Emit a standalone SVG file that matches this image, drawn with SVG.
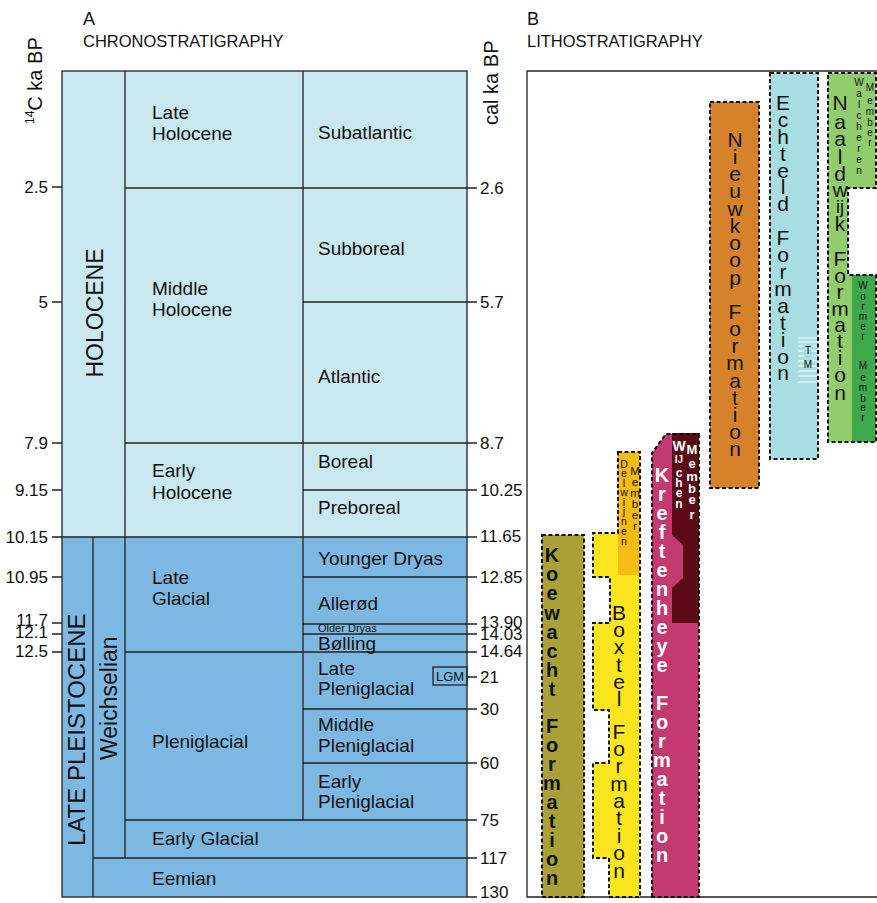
<svg xmlns="http://www.w3.org/2000/svg" width="877" height="903" viewBox="0 0 877 903">
<style>
text{font-family:"Liberation Sans",Arial,Helvetica,sans-serif;fill:#111}
.lab{font-size:19px}
.tk{font-size:17px}
.tl{font-size:17px;text-anchor:end}
.ln{stroke:#222;stroke-width:1.3;fill:none}
.fm{stroke:#111;stroke-width:2;stroke-dasharray:4 2.5}
.st{text-anchor:middle}
.big{font-size:21px}
.bw{font-size:20px;font-weight:bold}
.sm{font-size:10px}
.wh{fill:#fff;font-weight:bold}
</style>
<rect width="877" height="903" fill="#fff"/>
<g id="headers">
<text x="83" y="25" font-size="18">A</text>
<text x="83" y="47" font-size="16.5">CHRONOSTRATIGRAPHY</text>
<text x="527" y="25" font-size="18">B</text>
<text x="527" y="47" font-size="16.5">LITHOSTRATIGRAPHY</text>
<text transform="translate(42,124) rotate(-90)" font-size="20"><tspan font-size="12" dy="-8">14</tspan><tspan dy="8">C ka BP</tspan></text>
<text transform="translate(498,125) rotate(-90)" font-size="20">cal ka BP</text>
</g>
<g id="chronostratigraphy">
<rect x="62" y="71" width="405" height="466" fill="#c9e8ef"/>
<rect x="62" y="537" width="405" height="360" fill="#7db8e3"/>
<rect x="62" y="71" width="405" height="826" class="ln"/>
<path class="ln" d="M93 537V897M125 71V858M303 71V820
M125 188H477M303 302H477M125 443H477M303 490H477M52 537H477M303 577H477M303 624H477M303 634H477M125 652H477M303 709H477M303 763H477M125 820H477M93 858H477M467 897H477M467 677H477
M52 187H62M52 302H62M52 443H62M52 490H62M52 577H62M52 623H62M52 634H62M52 652H62"/>
<rect x="433" y="667" width="34" height="18" class="ln"/>
<text x="450" y="681" font-size="13" class="st">LGM</text>
</g>
<g id="period-labels">
<text transform="translate(103,313) rotate(-90)" font-size="23" class="st">HOLOCENE</text>
<text transform="translate(85,846) rotate(-90)" font-size="24">LATE PLEISTOCENE</text>
<text transform="translate(117,760) rotate(-90)" font-size="23">Weichselian</text>
<text class="lab" x="152" y="119">Late</text><text class="lab" x="152" y="140">Holocene</text>
<text class="lab" x="152" y="295">Middle</text><text class="lab" x="152" y="316">Holocene</text>
<text class="lab" x="152" y="477">Early</text><text class="lab" x="152" y="499">Holocene</text>
<text class="lab" x="152" y="584">Late</text><text class="lab" x="152" y="605">Glacial</text>
<text class="lab" x="152" y="748">Pleniglacial</text>
<text class="lab" x="152" y="845">Early Glacial</text>
<text class="lab" x="152" y="885">Eemian</text>
<text class="lab" x="318" y="139">Subatlantic</text>
<text class="lab" x="318" y="255">Subboreal</text>
<text class="lab" x="318" y="383">Atlantic</text>
<text class="lab" x="318" y="468">Boreal</text>
<text class="lab" x="318" y="514">Preboreal</text>
<text class="lab" x="318" y="565">Younger Dryas</text>
<text class="lab" x="318" y="610">Allerød</text>
<text x="318" y="632" font-size="11">Older Dryas</text>
<text class="lab" x="318" y="650">Bølling</text>
<text class="lab" x="318" y="675">Late</text><text class="lab" x="318" y="695">Pleniglacial</text>
<text class="lab" x="318" y="731">Middle</text><text class="lab" x="318" y="752">Pleniglacial</text>
<text class="lab" x="318" y="788">Early</text><text class="lab" x="318" y="808">Pleniglacial</text>
</g>
<g id="axis-14C">
<text class="tl" x="48" y="193">2.5</text>
<text class="tl" x="48" y="308">5</text>
<text class="tl" x="48" y="449">7.9</text>
<text class="tl" x="48" y="496">9.15</text>
<text class="tl" x="48" y="543">10.15</text>
<text class="tl" x="48" y="583">10.95</text>
<text class="tl" x="48" y="626" font-size="15">11.7</text>
<text class="tl" x="48" y="638" font-size="15">12.1</text>
<text class="tl" x="48" y="657" font-size="15.5">12.5</text>
</g>
<g id="axis-cal">
<text class="tk" x="480" y="194">2.6</text>
<text class="tk" x="480" y="308">5.7</text>
<text class="tk" x="480" y="449">8.7</text>
<text class="tk" x="480" y="496">10.25</text>
<text class="tk" x="480" y="542">11.65</text>
<text class="tk" x="480" y="583">12.85</text>
<text class="tk" x="480" y="628" font-size="16">13.90</text>
<text class="tk" x="480" y="640" font-size="16">14.03</text>
<text class="tk" x="480" y="657" font-size="16">14.64</text>
<text class="tk" x="480" y="683">21</text>
<text class="tk" x="480" y="715">30</text>
<text class="tk" x="480" y="769">60</text>
<text class="tk" x="480" y="826">75</text>
<text class="tk" x="480" y="864">117</text>
<text class="tk" x="480" y="898">130</text>
</g>
<g id="litho-frame">
<path class="ln" d="M877 71H527V897H877"/>
</g>
<g id="koewacht">
<rect x="542" y="535" width="42" height="362" fill="#a9a038" class="fm"/>
<text class="bw st"><tspan x="552" y="562">K</tspan><tspan x="552" y="581">o</tspan><tspan x="552" y="600">e</tspan><tspan x="552" y="620">w</tspan><tspan x="552" y="639">a</tspan><tspan x="552" y="658">c</tspan><tspan x="552" y="677">h</tspan><tspan x="552" y="696">t</tspan><tspan x="552" y="733">F</tspan><tspan x="552" y="752">o</tspan><tspan x="552" y="771">r</tspan><tspan x="552" y="790">m</tspan><tspan x="552" y="809">a</tspan><tspan x="552" y="828">t</tspan><tspan x="552" y="847">i</tspan><tspan x="552" y="866">o</tspan><tspan x="552" y="885">n</tspan></text>
</g>
<g id="boxtel">
<path d="M618 452H640V897H609V858H593V763H609V710H593V623H610V577H593V533H618Z" fill="#fae51e"/>
<rect x="618" y="452" width="22" height="123" fill="#f8bb14"/>
<path d="M618 452H640V897H609V858H593V763H609V710H593V623H610V577H593V533H618Z" fill="none" class="fm"/>
<text class="big st"><tspan x="619" y="620">B</tspan><tspan x="619" y="637">o</tspan><tspan x="619" y="654">x</tspan><tspan x="619" y="672">t</tspan><tspan x="619" y="689">e</tspan><tspan x="619" y="706">l</tspan><tspan x="619" y="739">F</tspan><tspan x="619" y="756">o</tspan><tspan x="619" y="773">r</tspan><tspan x="619" y="791">m</tspan><tspan x="619" y="808">a</tspan><tspan x="619" y="825">t</tspan><tspan x="619" y="843">i</tspan><tspan x="619" y="860">o</tspan><tspan x="619" y="878">n</tspan></text>
</g>
<g id="delwijnen-member">
<text class="st" font-size="10.5" fill="#222"><tspan x="624" y="468">D</tspan><tspan x="624" y="477">e</tspan><tspan x="624" y="487">l</tspan><tspan x="624" y="496">w</tspan><tspan x="624" y="506">i</tspan><tspan x="624" y="515">j</tspan><tspan x="624" y="525">n</tspan><tspan x="624" y="535">e</tspan><tspan x="624" y="545">n</tspan></text>
<text class="st" font-size="11.5"><tspan x="635" y="475">M</tspan><tspan x="635" y="486">e</tspan><tspan x="635" y="497">m</tspan><tspan x="635" y="508">b</tspan><tspan x="635" y="519">e</tspan><tspan x="635" y="530">r</tspan></text>
</g>
<g id="kreftenheye">
<path d="M652 897V453L666 434H699V897Z" fill="#c23a6f"/>
<path d="M672 433H699V623H672V588L683 578V545L672 535Z" fill="#5c0b16"/>
<path d="M652 897V453L666 434H699V897Z" fill="none" class="fm"/>
<text class="bw st wh"><tspan x="662" y="482">K</tspan><tspan x="662" y="501">r</tspan><tspan x="662" y="520">e</tspan><tspan x="662" y="539">f</tspan><tspan x="662" y="558">t</tspan><tspan x="662" y="577">e</tspan><tspan x="662" y="596">n</tspan><tspan x="662" y="615">h</tspan><tspan x="662" y="634">e</tspan><tspan x="662" y="653">y</tspan><tspan x="662" y="672">e</tspan><tspan x="662" y="710">F</tspan><tspan x="662" y="729">o</tspan><tspan x="662" y="748">r</tspan><tspan x="662" y="767">m</tspan><tspan x="662" y="786">a</tspan><tspan x="662" y="805">t</tspan><tspan x="662" y="824">i</tspan><tspan x="662" y="843">o</tspan><tspan x="662" y="862">n</tspan></text>
</g>
<g id="wijchen-member">
<text class="st wh" font-size="12"><tspan x="679" y="451" font-size="14">W</tspan><tspan x="679" y="463" font-size="10">IJ</tspan><tspan x="679" y="477">c</tspan><tspan x="679" y="487">h</tspan><tspan x="679" y="497">e</tspan><tspan x="679" y="508">n</tspan></text>
<text class="st wh" font-size="13"><tspan x="692" y="454">M</tspan><tspan x="692" y="468">e</tspan><tspan x="692" y="481">m</tspan><tspan x="692" y="493">b</tspan><tspan x="692" y="504">e</tspan><tspan x="692" y="519">r</tspan></text>
</g>
<g id="nieuwkoop">
<rect x="710" y="102" width="49" height="386" fill="#d5822b" class="fm"/>
<text class="big st"><tspan x="735" y="147">N</tspan><tspan x="735" y="164">i</tspan><tspan x="735" y="181">e</tspan><tspan x="735" y="198">u</tspan><tspan x="735" y="216">w</tspan><tspan x="735" y="233">k</tspan><tspan x="735" y="250">o</tspan><tspan x="735" y="267">o</tspan><tspan x="735" y="285">p</tspan><tspan x="735" y="319">F</tspan><tspan x="735" y="336">o</tspan><tspan x="735" y="353">r</tspan><tspan x="735" y="370">m</tspan><tspan x="735" y="388">a</tspan><tspan x="735" y="405">t</tspan><tspan x="735" y="422">i</tspan><tspan x="735" y="439">o</tspan><tspan x="735" y="456">n</tspan></text>
</g>
<g id="echteld">
<rect x="770" y="73" width="48" height="386" fill="#a8dde1" class="fm"/>
<text class="big st"><tspan x="783" y="110">E</tspan><tspan x="783" y="127">c</tspan><tspan x="783" y="144">h</tspan><tspan x="783" y="161">t</tspan><tspan x="783" y="178">e</tspan><tspan x="783" y="194">l</tspan><tspan x="783" y="211">d</tspan><tspan x="783" y="245">F</tspan><tspan x="783" y="262">o</tspan><tspan x="783" y="279">r</tspan><tspan x="783" y="296">m</tspan><tspan x="783" y="313">a</tspan><tspan x="783" y="330">t</tspan><tspan x="783" y="347">i</tspan><tspan x="783" y="364">o</tspan><tspan x="783" y="380">n</tspan></text>
<path stroke="#fff" stroke-width="1.2" d="M798 338H817M798 342H817M798 346H804M812 346H817M798 351H804M812 351H817M798 356H804M812 356H817M798 361H804M812 361H817M798 366H804M812 366H817M798 371H817M798 376H817M798 382H817"/>
<text class="st" font-size="10"><tspan x="808" y="354">T</tspan><tspan x="808" y="368">M</tspan></text>
</g>
<g id="naaldwijk">
<path d="M828 73H876V188H848V275H876V442H828Z" fill="#91cd6c"/>
<rect x="852" y="275" width="24" height="167" fill="#3da84c"/>
<path d="M828 73H876V188H848V275H876V442H828Z" fill="none" class="fm"/>
<text class="big st"><tspan x="840" y="110">N</tspan><tspan x="840" y="129">a</tspan><tspan x="840" y="146">a</tspan><tspan x="840" y="164">l</tspan><tspan x="840" y="181">d</tspan><tspan x="840" y="197">w</tspan><tspan x="840" y="213" font-size="18">ij</tspan><tspan x="840" y="231">k</tspan><tspan x="840" y="266">F</tspan><tspan x="840" y="283">o</tspan><tspan x="840" y="299">r</tspan><tspan x="840" y="316">m</tspan><tspan x="840" y="332">a</tspan><tspan x="840" y="348">t</tspan><tspan x="840" y="365">i</tspan><tspan x="840" y="382">o</tspan><tspan x="840" y="400">n</tspan></text>
</g>
<g id="walcheren-member">
<text class="st sm"><tspan x="859" y="86">W</tspan><tspan x="859" y="97">a</tspan><tspan x="859" y="108">l</tspan><tspan x="859" y="119">c</tspan><tspan x="859" y="130">h</tspan><tspan x="859" y="141">e</tspan><tspan x="859" y="152">r</tspan><tspan x="859" y="163">e</tspan><tspan x="859" y="174">n</tspan></text>
<text class="st sm"><tspan x="870" y="91">M</tspan><tspan x="870" y="104">e</tspan><tspan x="870" y="115">m</tspan><tspan x="870" y="126">b</tspan><tspan x="870" y="136">e</tspan><tspan x="870" y="146">r</tspan></text>
</g>
<g id="wormer-member">
<text class="st sm"><tspan x="863" y="289">W</tspan><tspan x="863" y="300">o</tspan><tspan x="863" y="310">r</tspan><tspan x="863" y="320">m</tspan><tspan x="863" y="330">e</tspan><tspan x="863" y="340">r</tspan><tspan x="863" y="369">M</tspan><tspan x="863" y="381">e</tspan><tspan x="863" y="391">m</tspan><tspan x="863" y="402">b</tspan><tspan x="863" y="411">e</tspan><tspan x="863" y="421">r</tspan></text>
</g>
</svg>
